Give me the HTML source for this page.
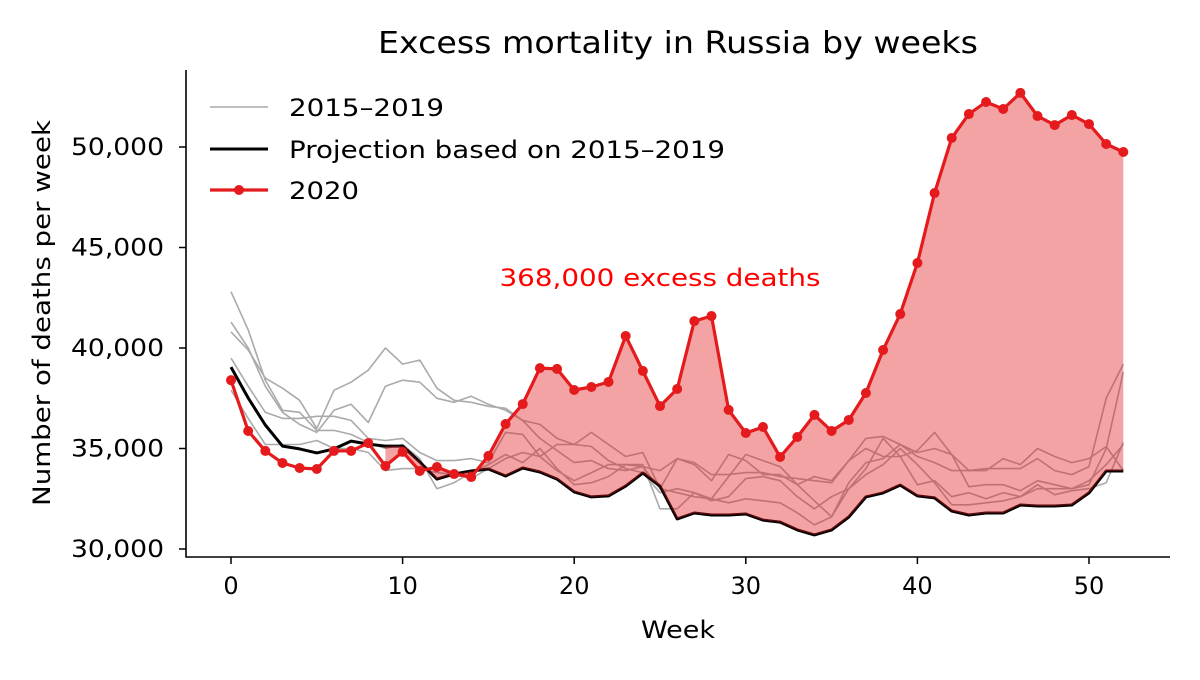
<!DOCTYPE html>
<html><head><meta charset="utf-8"><style>
html,body{margin:0;padding:0;background:#fff;}
svg text{font-family:"DejaVu Sans","Liberation Sans",sans-serif;}
</style></head><body>
<svg id="chart" width="1200" height="675" viewBox="0 0 1200 675" xmlns="http://www.w3.org/2000/svg">
<text x="678" y="53" font-size="30" textLength="600" lengthAdjust="spacingAndGlyphs" text-anchor="middle" fill="#000">Excess mortality in Russia by weeks</text>
<g id="plot"></g>
<g id="axes"></g>
<text x="678" y="638" font-size="24" textLength="74" lengthAdjust="spacingAndGlyphs" text-anchor="middle">Week</text>
<text transform="translate(50,313) rotate(-90)" font-size="24" textLength="386" lengthAdjust="spacingAndGlyphs" text-anchor="middle">Number of deaths per week</text>
<text x="660" y="286" font-size="24" textLength="321" lengthAdjust="spacingAndGlyphs" text-anchor="middle" fill="#ff0000">368,000 excess deaths</text>
<g>
<line x1="210" y1="107" x2="268" y2="107" stroke="#aaa" stroke-width="1.6"/>
<text x="289" y="116" font-size="24" textLength="155" lengthAdjust="spacingAndGlyphs">2015–2019</text>
<line x1="210" y1="149" x2="268" y2="149" stroke="#000" stroke-width="3"/>
<text x="289" y="158" font-size="24" textLength="436" lengthAdjust="spacingAndGlyphs">Projection based on 2015–2019</text>
<line x1="210" y1="190" x2="268" y2="190" stroke="#e41a1c" stroke-width="3.2"/>
<circle cx="239" cy="190" r="5" fill="#e41a1c"/>
<text x="289" y="199" font-size="24" textLength="70" lengthAdjust="spacingAndGlyphs">2020</text>
</g>
</svg>
<script>
const y2020 = [38400,35870,34880,34280,34030,33980,34880,34880,35270,34130,34830,33880,34080,33730,33580,34630,36220,37210,39000,38960,37910,38060,38310,40600,38860,37110,37960,41340,41590,36920,35770,36070,34580,35570,36670,35870,36420,37760,39900,41690,44230,47710,50450,51640,52240,51890,52690,51540,51090,51590,51140,50150,49750];
const projection = [39050,37510,36170,35120,34980,34780,34980,35370,35220,35120,35120,34330,33480,33730,33880,33980,33630,34030,33830,33480,32840,32590,32640,33130,33780,33130,31500,31790,31690,31690,31740,31440,31340,30950,30700,30950,31590,32590,32790,33180,32640,32540,31890,31690,31790,31790,32190,32140,32140,32190,32790,33880,33880];
const yr2015 = [42800,40900,38400,36900,36800,35900,35900,35700,35300,35000,35200,34500,33000,33300,33800,34200,34700,34300,35000,34000,33200,33300,33600,34200,34200,32000,32000,32800,32400,32600,33500,33600,33400,32600,32000,32600,33000,33700,34200,35000,34200,33300,32200,32200,32300,32400,32600,33200,32700,32900,33000,33300,35300];
const yr2016 = [41300,40000,38100,36800,36200,35800,36900,37200,36300,38100,38400,38300,37500,37300,37600,37200,36900,36400,35500,34900,34300,34400,34000,33900,34100,33000,32800,32600,32500,32300,32500,32400,32300,31800,31200,31600,33300,34300,34500,35200,34800,35000,34700,33100,33200,33200,32900,33400,33200,33000,33200,35000,38800];
const yr2017 = [40800,39900,38500,38000,37400,36000,37900,38300,38900,40000,39200,39400,38000,37400,37300,37100,37000,36400,36200,35500,35200,35100,34400,34000,33800,32800,33000,32800,32500,33600,34700,34400,34100,33200,32400,31600,33000,34000,35500,34600,34900,35800,34700,33900,33900,34500,34200,35000,34600,34300,34500,35100,33900];
const yr2018 = [39500,38100,36800,36500,36500,36600,36600,36400,35500,35400,35500,34800,34400,34400,34500,34300,35800,35700,34600,35200,35200,35800,35200,34600,34800,33000,34500,34200,33400,34700,34400,33700,33700,33200,33600,33400,34400,35500,35600,35200,34600,34300,33900,33900,34000,34000,34000,34500,33900,33700,34100,37500,39200];
const yr2019 = [37900,36500,35200,35200,35200,35400,35000,35000,34800,33900,34000,34000,33800,33700,33500,34000,34500,34800,34600,33900,33400,33800,34200,34200,34100,33900,34500,34300,33700,33700,33800,33800,33600,33500,33400,33300,34400,35000,34600,34600,33200,33400,32600,32800,32500,32800,32600,33000,33000,33000,33400,34200,35200];
const xTicks = [0,10,20,30,40,50];
const yTicks = [30000,35000,40000,45000,50000];
const fillStart = 9;

const NS = "http://www.w3.org/2000/svg";
const X = w => 231 + (1089 - 231) * w / 50;
const Y = v => 549 - (549 - 147) * (v - 30000) / 20000;
const plotG = document.getElementById('plot');
const axesG = document.getElementById('axes');
function mk(tag, attrs, parent){ const e=document.createElementNS(NS,tag); for(const k in attrs) e.setAttribute(k,attrs[k]); parent.appendChild(e); return e; }
function pts(arr){ return arr.map((v,i)=>X(i).toFixed(1)+','+Y(v).toFixed(1)).join(' '); }

[yr2015,yr2016,yr2017,yr2018,yr2019].forEach((s,i)=>{
  const p = mk('polyline',{points:pts(s),fill:'none',stroke:'#aaa','stroke-width':1.6,'stroke-linejoin':'round'},plotG);
  
  
});
const pl = mk('polyline',{points:pts(projection),fill:'none',stroke:'#000','stroke-width':3,'stroke-linejoin':'round'},plotG);



const upperPts = [], lowerPts = [];
for(let i=fillStart;i<y2020.length;i++){ upperPts.push(X(i).toFixed(1)+','+Y(y2020[i]).toFixed(1)); }
for(let i=y2020.length-1;i>=fillStart;i--){ lowerPts.push(X(i).toFixed(1)+','+Y(projection[i]).toFixed(1)); }
const fl = mk('polygon',{points:upperPts.concat(lowerPts).join(' '),fill:'#e41a1c','fill-opacity':0.4,stroke:'none'},plotG);



const rl = mk('polyline',{points:pts(y2020),fill:'none',stroke:'#e41a1c','stroke-width':3.2,'stroke-linejoin':'round'},plotG);


y2020.forEach((v,i)=>{
  const c = mk('circle',{cx:X(i),cy:Y(v),r:5,fill:'#e41a1c'},plotG);
  
  
});

const ls = mk('line',{x1:186,y1:70,x2:186,y2:557.5,stroke:'#000','stroke-width':1.6},axesG);


const bs = mk('line',{x1:185.5,y1:557,x2:1170,y2:557,stroke:'#000','stroke-width':1.6},axesG);


xTicks.forEach(t=>{
  const tk = mk('line',{x1:X(t),y1:557,x2:X(t),y2:564,stroke:'#000','stroke-width':1.5},axesG);
  
  
  const tx = mk('text',{x:X(t),y:594,'font-size':24,'text-anchor':'middle'},axesG);
  tx.textContent = t;
  
  
});
yTicks.forEach(t=>{
  const tk = mk('line',{x1:179,y1:Y(t),x2:186,y2:Y(t),stroke:'#000','stroke-width':1.5},axesG);
  
  
  const tx = mk('text',{x:164,y:Y(t)+8,'font-size':24,'text-anchor':'end',textLength:93,lengthAdjust:'spacingAndGlyphs'},axesG);
  tx.textContent = t.toLocaleString('en-US');
  
  
});
</script>
</body></html>
